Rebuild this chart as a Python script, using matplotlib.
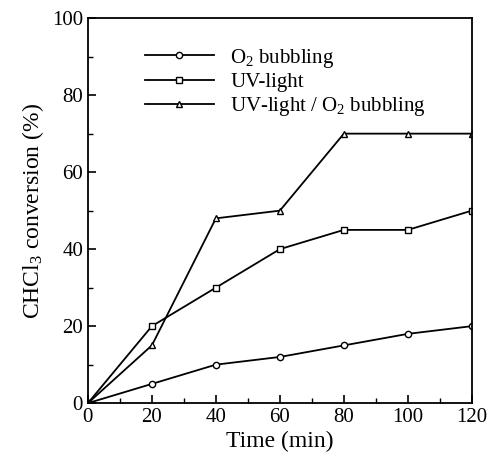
import numpy as np
import matplotlib
matplotlib.use("Agg")
import matplotlib.pyplot as plt
from matplotlib.ticker import MultipleLocator

plt.rcParams["font.family"] = "Liberation Serif"
plt.rcParams["mathtext.fontset"] = "custom"
plt.rcParams["mathtext.rm"] = "Liberation Serif"
plt.rcParams["mathtext.it"] = "Liberation Serif:italic"

# dati
tempo = [0, 20, 40, 60, 80, 100, 120]
o2_bubbling = [0, 5, 10, 12, 15, 18, 20]
uv_light = [0, 20, 30, 40, 45, 45, 50]
uv_o2 = [0, 15, 48, 50, 70, 70, 70]

etichette = ["O$_2$ bubbling", "UV-light", "UV-light / O$_2$ bubbling"]

fig = plt.figure(figsize=(4.91, 4.65), dpi=100)
ax = fig.add_axes([0.179, 0.133, 0.782, 0.828])

stile = dict(color="black", lw=1.3, ms=4.5, mfc="white", mec="black", mew=1.0)
ax.plot(tempo, o2_bubbling, marker="o", label=etichette[0], **stile)
ax.plot(tempo, uv_light, marker="s", label=etichette[1], **stile)
ax.plot(tempo, uv_o2, marker="^", label=etichette[2], **stile)

ax.set_xlim(0, 120)
ax.set_ylim(0, 100)
ax.xaxis.set_major_locator(MultipleLocator(20))
ax.xaxis.set_minor_locator(MultipleLocator(10))
ax.yaxis.set_major_locator(MultipleLocator(20))
ax.yaxis.set_minor_locator(MultipleLocator(10))
ax.tick_params(which="both", direction="in", labelsize=15)
ax.tick_params(which="major", length=6, width=1.2)
ax.tick_params(which="minor", length=3.5, width=1.0)
for s in ax.spines.values():
    s.set_linewidth(1.3)

ax.set_xlabel("Time (min)", fontsize=17, labelpad=3)
ax.set_ylabel("CHCl$_3$ conversion (%)", fontsize=17, labelpad=4)

ax.legend(loc="upper left", bbox_to_anchor=(0.1, 0.975), frameon=False,
          fontsize=15, handlelength=3.3, labelspacing=0.15, handletextpad=0.8)

fig.savefig("out.png", dpi=100)
